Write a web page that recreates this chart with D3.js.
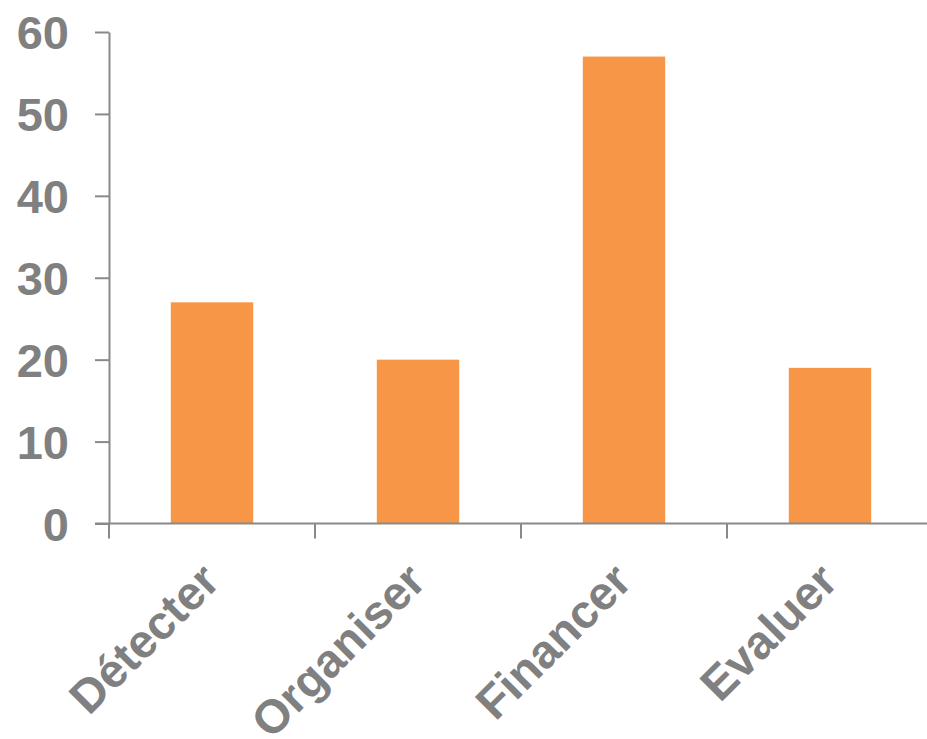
<!DOCTYPE html>
<html>
<head>
<meta charset="utf-8">
<script src="https://cdn.jsdelivr.net/npm/d3@7"></script>
<style>
  body { margin: 0; background: #fff; }
  text { font-family: "Liberation Sans", Arial, sans-serif; font-weight: bold; fill: #808080; }
</style>
</head>
<body>
<div id="chart"></div>
<script>
const categories = ['Détecter', 'Organiser', 'Financer', 'Evaluer']
const values = [27, 20, 57, 19]
const yTicks = [0, 10, 20, 30, 40, 50, 60]

const width = 927, height = 739
const margin = {top: 32, left: 109}
const axisColor = '#898989'
const fontSize = '47px'

const svg = d3.select('#chart').append('svg')
    .attr('width', width)
    .attr('height', height)

const x = d3.scaleBand()
    .domain(categories)
    .range([margin.left, margin.left + 4 * 206])
    .paddingInner(0.6)
    .paddingOuter(0.3)

const y = d3.scaleLinear()
    .domain([0, 60])
    .range([523.5, margin.top])

// bars
svg.selectAll('.bar').data(values).enter().append('rect')
    .attr('class', 'bar')
    .attr('x', (d, i) => x(categories[i]))
    .attr('y', d => y(d))
    .attr('width', x.bandwidth())
    .attr('height', d => y(0) - y(d))
    .attr('fill', '#F79646')

// y axis
const yAxis = d3.axisLeft(y)
    .tickValues(yTicks)
    .tickSize(14)
    .tickSizeOuter(0)
    .tickPadding(26)
svg.append('g')
    .attr('transform', `translate(${margin.left},0)`)
    .call(yAxis)
    .call(g => {
        g.select('.domain').attr('stroke', axisColor).attr('stroke-width', 2)
        g.selectAll('.tick line').attr('stroke', axisColor).attr('stroke-width', 2)
        g.selectAll('.tick text')
            .attr('fill', '#808080')
            .style('font-size', fontSize)
            .attr('dy', '0.36em')
    })

// x axis: line plus ticks on the band boundaries
const gx = svg.append('g')
gx.append('line')
    .attr('x1', margin.left - 14).attr('x2', width)
    .attr('y1', y(0)).attr('y2', y(0))
    .attr('stroke', axisColor).attr('stroke-width', 2)
const edge = (x.step() - x.bandwidth()) / 2
gx.selectAll('.xtick').data(categories).enter().append('line')
    .attr('class', 'xtick')
    .attr('x1', d => x(d) - edge).attr('x2', d => x(d) - edge)
    .attr('y1', y(0)).attr('y2', y(0) + 15)
    .attr('stroke', axisColor).attr('stroke-width', 2)

// rotated category labels, end of text near the band centre
gx.selectAll('.xlabel').data(categories).enter().append('text')
    .attr('class', 'xlabel')
    .attr('text-anchor', 'end')
    .style('font-size', fontSize)
    .attr('transform', d => `translate(${x(d) + x.bandwidth() / 2 + 10},${y(0) + 60}) rotate(-45)`)
    .text(d => d)
</script>
</body>
</html>
